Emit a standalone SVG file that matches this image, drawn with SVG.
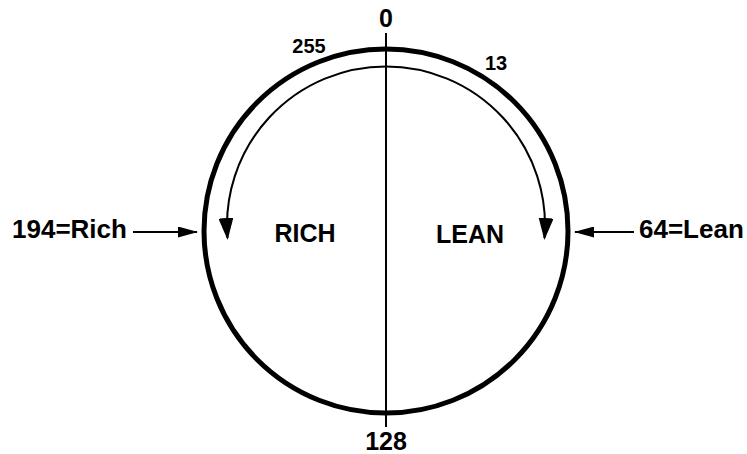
<svg xmlns="http://www.w3.org/2000/svg" width="747" height="454" viewBox="0 0 747 454">
<style>
text{font-family:"Liberation Sans",Arial,sans-serif;font-weight:bold;fill:#000}
.big{font-size:25px}
.lab{font-size:26px}
.sm{font-size:20px}
.ln{stroke:#000;fill:none}
</style>
<defs>
<marker id="ah" viewBox="0 0 22 15" refX="20" refY="7.5" markerWidth="22" markerHeight="15" markerUnits="userSpaceOnUse" orient="auto-start-reverse">
<path d="M0,0 L22,7.5 L0,15 z" fill="#000"/>
</marker>
<marker id="ah2" viewBox="0 0 20 11" refX="19" refY="5.5" markerWidth="20" markerHeight="11" markerUnits="userSpaceOnUse" orient="auto">
<path d="M0,0 L20,5.5 L0,11 z" fill="#000"/>
</marker>
</defs>
<g id="dial">
<circle cx="386" cy="231" r="182" class="ln" stroke-width="5"/>
</g>
<g id="axis">
<line x1="386" y1="33" x2="386" y2="427" class="ln" stroke-width="2"/>
</g>
<g id="connectors">
<path d="M227.5 238 A159 159 0 1 1 544.5 238" class="ln" stroke-width="2" marker-start="url(#ah)" marker-end="url(#ah)"/>
<line x1="133" y1="232" x2="197" y2="232" class="ln" stroke-width="2" marker-end="url(#ah2)"/>
<line x1="634" y1="232" x2="575" y2="232" class="ln" stroke-width="2" marker-end="url(#ah2)"/>
</g>
<g id="labels">
<text x="386" y="27" class="big" text-anchor="middle">0</text>
<text x="309" y="53" class="sm" text-anchor="middle">255</text>
<text x="496" y="70" class="sm" text-anchor="middle">13</text>
<text x="386" y="450" class="big" text-anchor="middle">128</text>
</g>
<g id="rich">
<text x="305" y="242" class="big" text-anchor="middle">RICH</text>
</g>
<g id="lean">
<text x="470" y="243" class="big" text-anchor="middle">LEAN</text>
</g>
<g id="rich-label">
<text x="12" y="238" class="lab">194=Rich</text>
</g>
<g id="lean-label">
<text x="639" y="238" class="lab">64=Lean</text>
</g>
</svg>
